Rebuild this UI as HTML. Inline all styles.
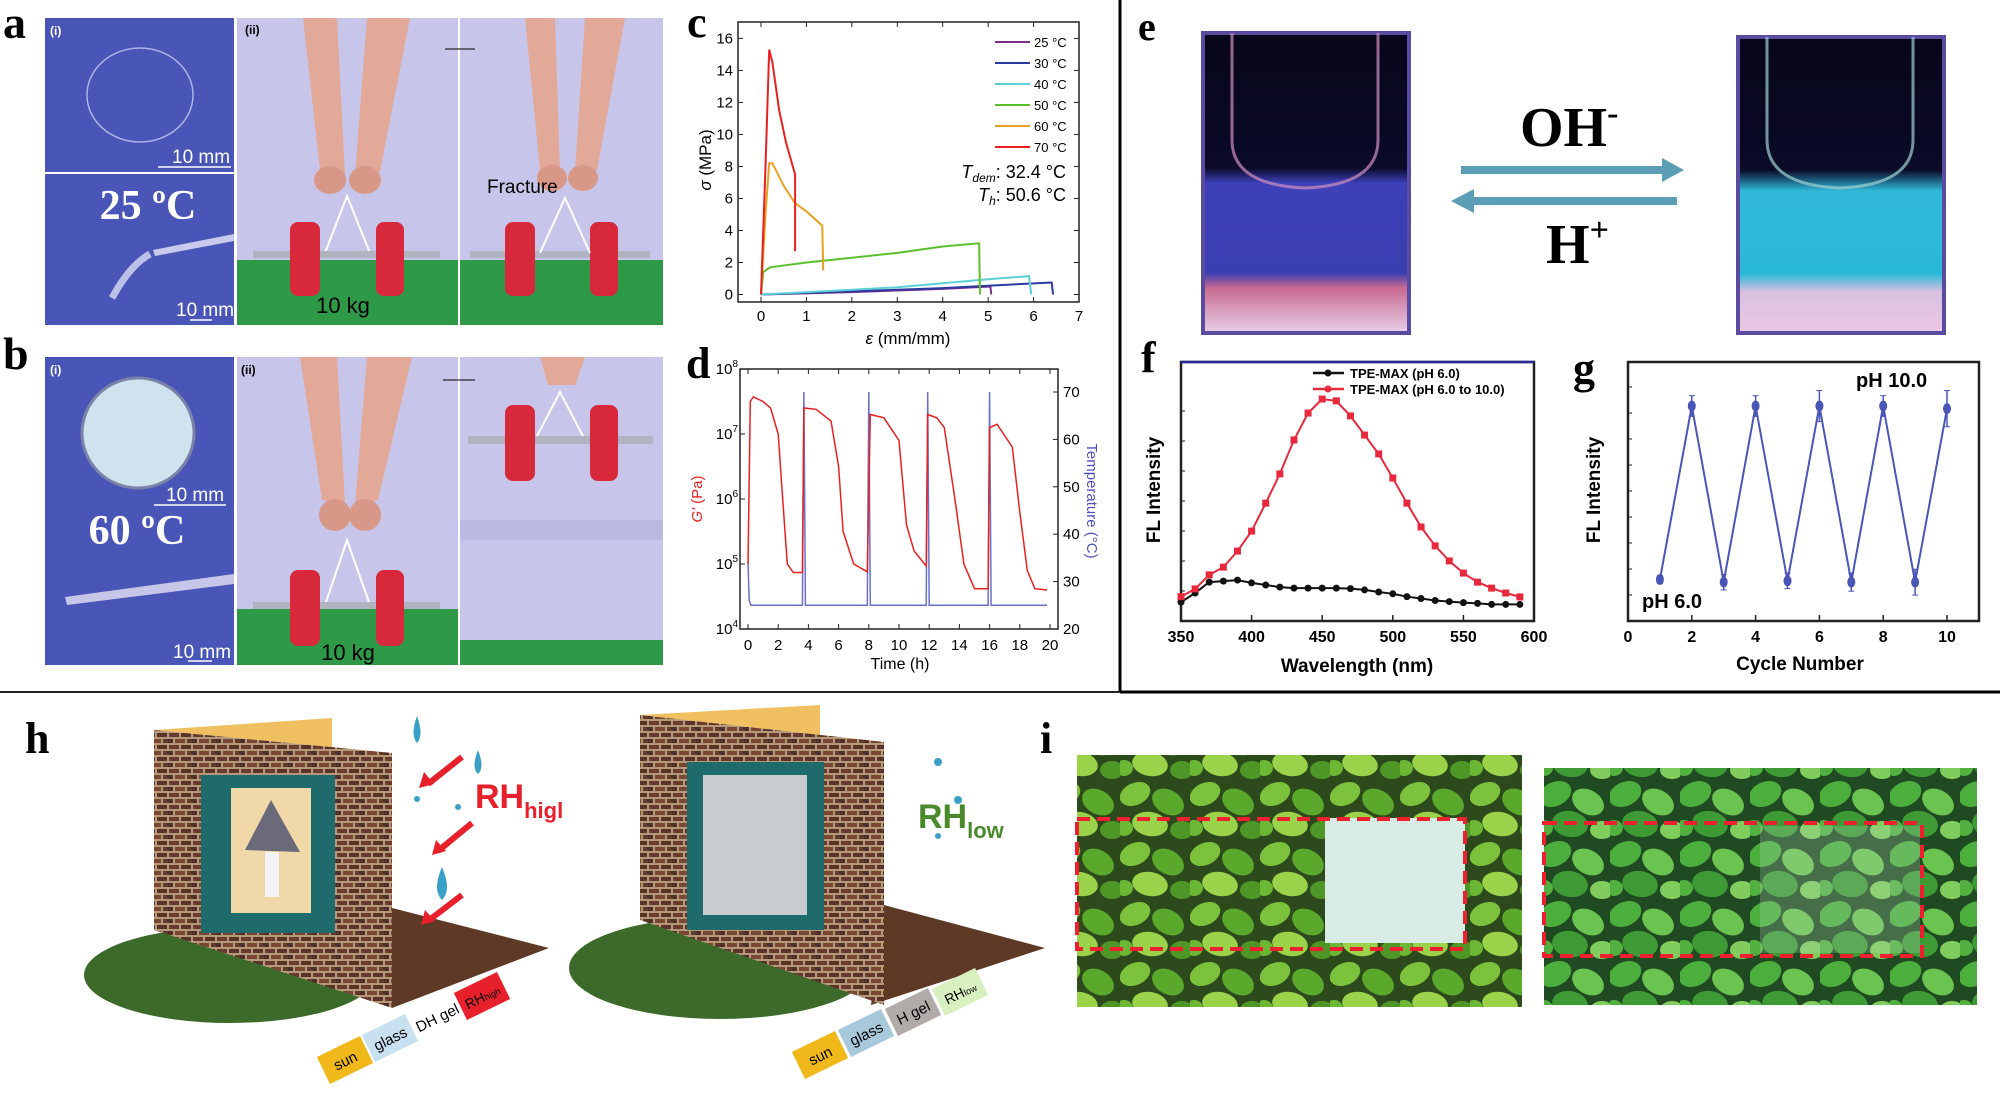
<!DOCTYPE html>
<html><head><meta charset="utf-8"><style>
html,body{margin:0;padding:0;background:#fff;}
svg{display:block;}
text{font-family:"Liberation Sans",sans-serif;}
.serif{font-family:"Liberation Serif",serif;font-weight:bold;}
.cond{font-family:"Liberation Sans Narrow","Liberation Sans",sans-serif;font-weight:bold;}
</style></head><body>
<svg id="fig" width="2000" height="1093" viewBox="0 0 2000 1093" xmlns="http://www.w3.org/2000/svg">
<defs>
<pattern id="leaves" width="70" height="60" patternUnits="userSpaceOnUse">
<rect width="70" height="60" fill="#2c4a1c"/>
<ellipse cx="15" cy="14" rx="16" ry="11" fill="#7cc23c" transform="rotate(-25 15 14)"/>
<ellipse cx="48" cy="22" rx="17" ry="12" fill="#5aa82c" transform="rotate(30 48 22)"/>
<ellipse cx="30" cy="44" rx="18" ry="12" fill="#9ad24a" transform="rotate(10 30 44)"/>
<ellipse cx="62" cy="50" rx="12" ry="9" fill="#4e9626"/>
<ellipse cx="4" cy="48" rx="9" ry="8" fill="#6cb834"/>
</pattern>
<pattern id="leaves2" width="70" height="60" patternUnits="userSpaceOnUse">
<rect width="70" height="60" fill="#1f4a22"/>
<ellipse cx="15" cy="14" rx="17" ry="12" fill="#4cae3c" transform="rotate(-25 15 14)"/>
<ellipse cx="48" cy="22" rx="17" ry="12" fill="#6cc450" transform="rotate(30 48 22)"/>
<ellipse cx="30" cy="44" rx="18" ry="13" fill="#3e9a34" transform="rotate(10 30 44)"/>
<ellipse cx="62" cy="50" rx="12" ry="9" fill="#80cc5c"/>
<ellipse cx="4" cy="48" rx="9" ry="8" fill="#52b040"/>
</pattern>
<pattern id="brick" width="24" height="12" patternUnits="userSpaceOnUse">
<rect width="24" height="12" fill="#b59a7a"/>
<rect x="1" y="1" width="10" height="4" fill="#6a3a2e"/><rect x="13" y="1" width="10" height="4" fill="#5a3228"/>
<rect x="-5" y="7" width="10" height="4" fill="#4e2e26"/><rect x="7" y="7" width="10" height="4" fill="#7a4634"/><rect x="19" y="7" width="10" height="4" fill="#5e3a2c"/>
</pattern>
<linearGradient id="cuvL" x1="0" y1="0" x2="0" y2="1">
<stop offset="0" stop-color="#07061a"/><stop offset="0.45" stop-color="#0b0a28"/><stop offset="0.5" stop-color="#3d40b8"/><stop offset="0.8" stop-color="#3a3fb0"/><stop offset="0.85" stop-color="#c86a90"/><stop offset="1" stop-color="#e8d0ea"/>
</linearGradient>
<linearGradient id="cuvR" x1="0" y1="0" x2="0" y2="1">
<stop offset="0" stop-color="#07061a"/><stop offset="0.45" stop-color="#0b0a28"/><stop offset="0.52" stop-color="#30b8d8"/><stop offset="0.8" stop-color="#2ab8d8"/><stop offset="0.86" stop-color="#d8c0e0"/><stop offset="1" stop-color="#ecc8e4"/>
</linearGradient>
</defs>

<!-- dividers -->
<line x1="1120" y1="0" x2="1120" y2="692" stroke="#000" stroke-width="3"/>
<line x1="1120" y1="692" x2="2000" y2="692" stroke="#000" stroke-width="3"/>
<line x1="0" y1="692" x2="1120" y2="692" stroke="#222" stroke-width="2"/>

<!-- Panel a -->
<g>
<text class="serif" x="3" y="38" font-size="46">a</text>
<rect x="45" y="18" width="189" height="154" fill="#4a55b8"/>
<rect x="45" y="174" width="189" height="151" fill="#4a55b8"/>
<text x="50" y="35" font-size="12" font-weight="bold" fill="#fff">(i)</text>
<ellipse cx="140" cy="95" rx="53" ry="47" fill="none" stroke="#c8ccf0" stroke-width="1.5" opacity="0.8"/>
<text x="172" y="163" font-size="19" fill="#fff">10 mm</text>
<line x1="158" y1="167" x2="231" y2="167" stroke="#fff" stroke-width="1.5"/>
<text class="serif" x="148" y="219" font-size="42" fill="#fff" text-anchor="middle">25 ºC</text>
<polygon points="153,250 234,234 234,241 155,256" fill="#dfe0f4" opacity="0.85"/>
<path d="M150,254 Q130,265 112,298" stroke="#d8dcf4" stroke-width="7" fill="none" opacity="0.8"/>
<text x="176" y="316" font-size="19" fill="#fff">10 mm</text>
<line x1="190" y1="320" x2="212" y2="320" stroke="#fff" stroke-width="1.5"/>
<rect x="237" y="18" width="221" height="307" fill="#c7c6ea"/>
<rect x="237" y="260" width="221" height="65" fill="#2e9a48"/>
<text x="245" y="34" font-size="12" font-weight="bold">(ii)</text>
<path d="M303,18 L320,170 L345,175 L337,18 Z" fill="#e2a898"/>
<path d="M367,18 L355,175 L380,172 L410,18 Z" fill="#e2a898"/>
<ellipse cx="330" cy="180" rx="16" ry="14" fill="#d89888"/><ellipse cx="365" cy="180" rx="16" ry="14" fill="#d89888"/>
<polyline points="325,253 347,196 370,253" fill="none" stroke="#fff" stroke-width="2"/>
<rect x="253" y="251" width="187" height="7" fill="#b0b4c0"/>
<rect x="290" y="222" width="30" height="74" rx="8" fill="#d8283c"/>
<rect x="376" y="222" width="28" height="74" rx="8" fill="#d8283c"/>
<text x="343" y="313" font-size="22" text-anchor="middle">10 kg</text>
<rect x="460" y="18" width="203" height="307" fill="#c7c6ea"/>
<rect x="460" y="260" width="203" height="65" fill="#2e9a48"/>
<line x1="445" y1="49" x2="475" y2="49" stroke="#000" stroke-width="1"/>
<path d="M525,18 L540,170 L560,172 L555,18 Z" fill="#e2a898"/>
<path d="M585,18 L575,172 L597,170 L625,18 Z" fill="#e2a898"/>
<ellipse cx="552" cy="178" rx="15" ry="13" fill="#d89888"/><ellipse cx="583" cy="178" rx="15" ry="13" fill="#d89888"/>
<text x="487" y="193" font-size="19">Fracture</text>
<rect x="470" y="251" width="180" height="7" fill="#b0b4c0"/>
<rect x="505" y="222" width="30" height="74" rx="8" fill="#d8283c"/>
<rect x="590" y="222" width="28" height="74" rx="8" fill="#d8283c"/>
<polyline points="540,253 565,198 590,253" fill="none" stroke="#fff" stroke-width="2"/>
</g>

<!-- Panel b -->
<g>
<text class="serif" x="3" y="369" font-size="46">b</text>
<rect x="45" y="357" width="189" height="308" fill="#4a55b8"/>
<text x="50" y="374" font-size="12" font-weight="bold" fill="#fff">(i)</text>
<ellipse cx="138" cy="433" rx="56" ry="55" fill="#cfe3ee" stroke="#7a82a8" stroke-width="3"/>
<text x="166" y="501" font-size="19" fill="#fff">10 mm</text>
<line x1="154" y1="505" x2="226" y2="505" stroke="#fff" stroke-width="1.5"/>
<text class="serif" x="137" y="544" font-size="42" fill="#fff" text-anchor="middle">60 ºC</text>
<polygon points="65,597 234,574 234,584 67,605" fill="#dcdcf0" opacity="0.85"/>
<text x="173" y="658" font-size="19" fill="#fff">10 mm</text>
<line x1="188" y1="661" x2="212" y2="661" stroke="#fff" stroke-width="1.5"/>
<rect x="237" y="357" width="221" height="308" fill="#c7c6ea"/>
<rect x="237" y="609" width="221" height="56" fill="#2e9a48"/>
<text x="241" y="374" font-size="12" font-weight="bold">(ii)</text>
<path d="M300,357 L322,500 L345,505 L337,357 Z" fill="#e2a898"/>
<path d="M367,357 L355,505 L378,500 L412,357 Z" fill="#e2a898"/>
<ellipse cx="335" cy="515" rx="16" ry="16" fill="#d89888"/><ellipse cx="365" cy="515" rx="16" ry="16" fill="#d89888"/>
<polyline points="325,605 347,540 370,605" fill="none" stroke="#fff" stroke-width="2"/>
<rect x="253" y="602" width="187" height="7" fill="#b0b4c0"/>
<rect x="290" y="570" width="30" height="76" rx="8" fill="#d8283c"/>
<rect x="376" y="570" width="28" height="76" rx="8" fill="#d8283c"/>
<text x="348" y="660" font-size="22" text-anchor="middle">10 kg</text>
<rect x="460" y="357" width="203" height="308" fill="#c7c6ea"/>
<rect x="460" y="640" width="203" height="25" fill="#2e9a48"/>
<rect x="460" y="520" width="203" height="20" fill="#b0b0d8" opacity="0.6"/>
<line x1="443" y1="380" x2="475" y2="380" stroke="#000" stroke-width="1"/>
<path d="M540,357 L548,385 L575,385 L585,357 Z" fill="#e2a898"/>
<polyline points="535,440 560,392 585,440" fill="none" stroke="#fff" stroke-width="2"/>
<rect x="468" y="436" width="185" height="8" fill="#b0b4c0"/>
<rect x="505" y="405" width="30" height="76" rx="8" fill="#d8283c"/>
<rect x="590" y="405" width="28" height="76" rx="8" fill="#d8283c"/>
</g>

<!-- Panel e -->
<g>
<text class="serif" x="1138" y="40" font-size="40">e</text>
<rect x="1203" y="33" width="206" height="300" fill="url(#cuvL)" stroke="#5a4aa0" stroke-width="4"/>
<path d="M1232,33 L1232,140 Q1232,185 1305,188 Q1378,185 1378,140 L1378,33" fill="none" stroke="#d090c0" stroke-width="3" opacity="0.7"/>
<rect x="1738" y="37" width="206" height="296" fill="url(#cuvR)" stroke="#5a4aa0" stroke-width="4"/>
<path d="M1767,37 L1767,140 Q1767,185 1840,188 Q1913,185 1913,140 L1913,37" fill="none" stroke="#a0d0d0" stroke-width="3" opacity="0.7"/>
<text class="serif" x="1520" y="146" font-size="56">OH<tspan font-size="34" dy="-22">-</tspan></text>
<text class="serif" x="1546" y="263" font-size="56">H<tspan font-size="34" dy="-22">+</tspan></text>
<polygon points="1461,166 1662,166 1662,158 1684,170 1662,182 1662,174 1461,174" fill="#5b9eb5"/>
<polygon points="1677,197 1474,197 1474,189 1451,201 1474,213 1474,205 1677,205" fill="#5b9eb5"/>
</g>

<!-- Panel h -->
<g>
<text class="serif" x="25" y="753" font-size="44">h</text>
<g>
<ellipse cx="230" cy="975" rx="146" ry="48" fill="#3c6a2a"/>
<polygon points="392,908 549,948 392,1008" fill="#5e3a26"/>
<polygon points="154,730 332,718 332,747 392,753" fill="#f0c060"/>
<polygon points="154,730 392,753 392,1008 154,930" fill="url(#brick)"/>
<rect x="201" y="775" width="134" height="158" fill="#1f6a6a"/>
<rect x="231" y="788" width="80" height="125" fill="#f0d8a8"/>
<polygon points="271,800 245,850 300,852" fill="#6a6a7a"/>
<rect x="265" y="852" width="14" height="45" fill="#f4f4f4"/>
<text x="475" y="808" font-size="34" font-weight="bold" fill="#e8202c">RH<tspan font-size="22" dy="10">higl</tspan></text>
<g stroke="#e8202c" stroke-width="6" fill="#e8202c">
<line x1="462" y1="757" x2="428" y2="784"/><line x1="472" y1="823" x2="438" y2="851"/><line x1="462" y1="895" x2="428" y2="921"/>
</g>
<polygon points="419,788 424,772 434,784" fill="#e8202c"/>
<polygon points="432,855 436,840 446,851" fill="#e8202c"/>
<polygon points="421,925 425,910 435,921" fill="#e8202c"/>
<path d="M417,716 Q410,735 417,743 Q424,735 417,716Z" fill="#3aa0c8"/>
<path d="M478,750 Q471,768 478,774 Q485,768 478,750Z" fill="#3aa0c8"/>
<path d="M442,867 Q432,890 442,900 Q452,890 442,867Z" fill="#3aa0c8"/>
<circle cx="417" cy="799" r="3" fill="#3aa0c8"/><circle cx="458" cy="807" r="3" fill="#3aa0c8"/>
<g transform="translate(345,1060) rotate(-26)"><rect x="-24" y="-15" width="48" height="30" fill="#f0b818"/><text x="0" y="6" font-size="15" text-anchor="middle">sun</text></g>
<g transform="translate(390,1038) rotate(-26)"><rect x="-24" y="-15" width="48" height="30" fill="#c8e0f0"/><text x="0" y="6" font-size="15" text-anchor="middle">glass</text></g>
<g transform="translate(437,1017) rotate(-26)"><rect x="-24" y="-15" width="48" height="30" fill="#fff"/><text x="0" y="6" font-size="15" text-anchor="middle">DH gel</text></g>
<g transform="translate(482,996) rotate(-26)"><rect x="-24" y="-15" width="48" height="30" fill="#e8202c"/><text x="0" y="6" font-size="14" text-anchor="middle">RH<tspan font-size="9">high</tspan></text></g>
</g>
<g>
<ellipse cx="720" cy="968" rx="151" ry="51" fill="#3c6a2a"/>
<polygon points="884,905 1045,948 871,1005" fill="#5e3a26"/>
<polygon points="640,715 820,705 820,738 884,742" fill="#f0c060"/>
<polygon points="640,715 884,742 884,1005 640,920" fill="url(#brick)"/>
<rect x="687" y="762" width="137" height="168" fill="#1f6a6a"/>
<rect x="703" y="775" width="104" height="140" fill="#c8ccd0"/>
<text x="918" y="828" font-size="34" font-weight="bold" fill="#4a8a2a">RH<tspan font-size="22" dy="10">low</tspan></text>
<circle cx="938" cy="762" r="4" fill="#3aa0c8"/><circle cx="958" cy="800" r="4" fill="#3aa0c8"/><circle cx="938" cy="836" r="3" fill="#3aa0c8"/>
<g transform="translate(820,1055) rotate(-26)"><rect x="-24" y="-15" width="48" height="30" fill="#f0b818"/><text x="0" y="6" font-size="15" text-anchor="middle">sun</text></g>
<g transform="translate(866,1033) rotate(-26)"><rect x="-24" y="-15" width="48" height="30" fill="#a8c8dc"/><text x="0" y="6" font-size="15" text-anchor="middle">glass</text></g>
<g transform="translate(913,1012) rotate(-26)"><rect x="-24" y="-15" width="48" height="30" fill="#b0aaa8"/><text x="0" y="6" font-size="15" text-anchor="middle">H gel</text></g>
<g transform="translate(960,992) rotate(-26)"><rect x="-24" y="-15" width="48" height="30" fill="#d8f0c0"/><text x="0" y="6" font-size="14" text-anchor="middle">RH<tspan font-size="9">low</tspan></text></g>
</g>
</g>

<!-- Panel i -->
<g>
<text class="serif" x="1040" y="753" font-size="44">i</text>
<rect x="1077" y="755" width="445" height="252" fill="url(#leaves)"/>
<rect x="1325" y="818" width="140" height="125" fill="#d8ebe4"/>
<rect x="1077" y="819" width="388" height="130" fill="none" stroke="#ee2030" stroke-width="4" stroke-dasharray="13,7"/>
<rect x="1544" y="768" width="433" height="237" fill="url(#leaves2)"/>
<rect x="1760" y="826" width="160" height="127" fill="#b8dcc0" opacity="0.25"/>
<rect x="1544" y="823" width="378" height="133" fill="none" stroke="#ee2030" stroke-width="4" stroke-dasharray="13,7"/>
</g>

<g id="chartC"></g>
<g id="chartD"></g>
<g id="chartF"></g>
<g id="chartG"></g>
</svg>
<script>
// ---------- chart c data ----------
const cTemps = ["25 °C","30 °C","40 °C","50 °C","60 °C","70 °C"];
const cColors = ["#7b2d8e","#2b3aa0","#5cd0d8","#5cc02c","#e8a020","#e82020"];
const cStrain25 = [0,2,4,5.05,5.07];
const cStress25 = [0,0.15,0.35,0.5,0];
const cStrain30 = [0,1,2,3,4,5,6.4,6.43];
const cStress30 = [0,0.1,0.2,0.3,0.4,0.55,0.75,0];
const cStrain40 = [0,1,2,3,4,5,5.9,5.95];
const cStress40 = [0,0.15,0.3,0.45,0.7,0.95,1.15,0];
const cStrain50 = [0,0.05,0.2,1,2,3,4,4.4,4.8,4.82];
const cStress50 = [0,1.4,1.7,2,2.3,2.6,3,3.1,3.2,0];
const cStrain60 = [0,0.1,0.18,0.25,0.5,0.75,1,1.35,1.37];
const cStress60 = [0,5,8.2,8.2,6.8,5.7,5.2,4.3,1.5];
const cStrain70 = [0,0.1,0.18,0.25,0.4,0.55,0.7,0.75,0.75];
const cStress70 = [0,8,15.3,14.5,11.5,9.5,8,7.5,2.7];
const cXTicks = [0,1,2,3,4,5,6,7];
const cYTicks = [0,2,4,6,8,10,12,14,16];
// ---------- chart d data ----------
const dTime = [0,0.15,0.35,1,1.5,2,2.3,2.6,3,3.6,3.7,4.5,5.5,6,6.3,7,7.9,8.1,9,10,10.5,11,11.8,11.9,12.5,13,13.7,14.3,15,15.9,16,16.5,17.5,18,18.5,19,19.8];
const dLogG = [5,7.5,7.57,7.5,7.4,7,6,5,4.87,4.87,7.4,7.38,7.2,6.5,5.5,5,4.88,7.3,7.25,6.9,5.6,5.2,4.97,7.3,7.25,7.1,6,5,4.62,4.62,7.1,7.15,6.8,5.8,4.9,4.62,4.6];
const dTempTime = [0,0.08,0.2,3.6,3.7,3.8,7.9,8,8.1,11.8,11.9,12,15.9,16,16.1,19.8];
const dTemp = [34,26,25,25,70,25,25,70,25,25,70,25,25,70,25,25];
const dXTicks = [0,2,4,6,8,10,12,14,16,18,20];
const dYTicks = [4,5,6,7,8];
const dTTicks = [20,30,40,50,60,70];
// ---------- chart f data ----------
const fWave = [350,360,370,380,390,400,410,420,430,440,450,460,470,480,490,500,510,520,530,540,550,560,570,580,590];
const fRed = [9.4,12.4,17.8,20.8,27,34.7,45.5,56.8,69.9,80.3,85.7,85,79.2,71.8,64.5,55.2,45.5,36.3,29,23.2,18.5,15,12.7,10.8,9.3];
const fBlack = [7.3,10.8,15,15.4,15.8,14.7,13.9,13.1,12.7,12.7,12.7,12.7,12.5,12,11.2,10.5,9.4,8.7,7.9,7.5,7.1,6.8,6.4,6.4,6.4];
const fXTicks = [350,400,450,500,550,600];
const fLegend = ["TPE-MAX (pH 6.0)","TPE-MAX (pH 6.0 to 10.0)"];
// ---------- chart g data ----------
const gCycle = [1,2,3,4,5,6,7,8,9,10];
const gValue = [16,83,15,83,15.5,83,15,83,15,82];
const gErr = [1.5,4,3,4,3,6,3.5,4,5,7];
const gXTicks = [0,2,4,6,8,10];

const NS="http://www.w3.org/2000/svg";
function mk(tag, attrs, parent){const e=document.createElementNS(NS,tag);for(const k in attrs)e.setAttribute(k,attrs[k]);parent.appendChild(e);return e;}
function pathD(xs,ys,fx,fy){return xs.map((x,i)=>(i?"L":"M")+fx(x).toFixed(1)+","+fy(ys[i]).toFixed(1)).join(" ");}

// ================= Chart C =================
(function(){
const g=document.getElementById("chartC");
const L=738,R=1079,T=22,B=302;
const x=v=>761+v*(1079-761)/7, y=v=>294.5-v*(294.5-38.4)/16;
let t=mk("text",{x:687,y:37,"font-size":44,class:"serif"},g);t.textContent="c";


const fr=mk("rect",{x:L,y:T,width:R-L,height:B-T,fill:"none",stroke:"#222","stroke-width":1.5},g);


cXTicks.forEach(v=>{mk("line",{x1:x(v),y1:B,x2:x(v),y2:B-5,stroke:"#222"},g);mk("line",{x1:x(v),y1:T,x2:x(v),y2:T+5,stroke:"#222"},g);
 const l=mk("text",{x:x(v),y:321,"font-size":15,"text-anchor":"middle"},g);l.textContent=v;
 
 });
cYTicks.forEach(v=>{mk("line",{x1:L,y1:y(v),x2:L+5,y2:y(v),stroke:"#222"},g);mk("line",{x1:R,y1:y(v),x2:R-5,y2:y(v),stroke:"#222"},g);
 const l=mk("text",{x:733,y:y(v)+5,"font-size":15,"text-anchor":"end"},g);l.textContent=v;
 
 });
let yt=mk("text",{x:0,y:0,"font-size":17,"text-anchor":"middle",transform:"translate(711,160) rotate(-90)"},g);yt.innerHTML='<tspan font-style="italic">σ</tspan> (MPa)';


let xt=mk("text",{x:908,y:344,"font-size":17,"text-anchor":"middle"},g);xt.innerHTML='<tspan font-style="italic">ε</tspan> (mm/mm)';


const SX=[cStrain25,cStrain30,cStrain40,cStrain50,cStrain60,cStrain70], SY=[cStress25,cStress30,cStress40,cStress50,cStress60,cStress70];
SX.forEach((xs,i)=>{const p=mk("path",{d:pathD(xs,SY[i],x,y),fill:"none",stroke:cColors[i],"stroke-width":2},g);
 
 
 const ly=42+i*21;mk("line",{x1:995,y1:ly,x2:1030,y2:ly,stroke:cColors[i],"stroke-width":2},g);
 const lt=mk("text",{x:1034,y:ly+5,"font-size":13},g);lt.textContent=cTemps[i];
 
 });
let a1=mk("text",{x:1066,y:178,"font-size":18,"text-anchor":"end"},g);a1.innerHTML='<tspan font-style="italic">T</tspan><tspan font-size="12" dy="4" font-style="italic">dem</tspan><tspan dy="-4">: 32.4 °C</tspan>';


let a2=mk("text",{x:1066,y:201,"font-size":18,"text-anchor":"end"},g);a2.innerHTML='<tspan font-style="italic">T</tspan><tspan font-size="12" dy="4" font-style="italic">h</tspan><tspan dy="-4">: 50.6 °C</tspan>';


})();

// ================= Chart D =================
(function(){
const g=document.getElementById("chartD");
const L=740,R=1058,T=369,B=629;
const x=v=>748+v*(1050-748)/20, y=v=>629-(v-4)*65, yt=v=>629-(v-20)*(629-392)/50;
let t=mk("text",{x:686,y:378,"font-size":44,class:"serif"},g);t.textContent="d";


const fr=mk("rect",{x:L,y:T,width:R-L,height:B-T,fill:"none",stroke:"#222","stroke-width":1.5},g);


dXTicks.forEach(v=>{mk("line",{x1:x(v),y1:B,x2:x(v),y2:B-5,stroke:"#222"},g);mk("line",{x1:x(v),y1:T,x2:x(v),y2:T+5,stroke:"#222"},g);
 const l=mk("text",{x:x(v),y:650,"font-size":15,"text-anchor":"middle"},g);l.textContent=v;
 
 });
dYTicks.forEach(v=>{mk("line",{x1:L,y1:y(v),x2:L+5,y2:y(v),stroke:"#222"},g);
 const l=mk("text",{x:738,y:y(v)+5,"font-size":15,"text-anchor":"end"},g);l.innerHTML='10<tspan font-size="10" dy="-7">'+v+'</tspan>';
 
 });
dTTicks.forEach(v=>{mk("line",{x1:R,y1:yt(v),x2:R-5,y2:yt(v),stroke:"#222"},g);
 const l=mk("text",{x:1063,y:yt(v)+5,"font-size":15},g);l.textContent=v;
 
 });
let xt=mk("text",{x:900,y:669,"font-size":16,"text-anchor":"middle"},g);xt.textContent="Time (h)";


let y1=mk("text",{"font-size":15,"text-anchor":"middle",fill:"#e82020",transform:"translate(702,499) rotate(-90)"},g);y1.innerHTML='<tspan font-style="italic">G\'</tspan> (Pa)';


let y2=mk("text",{"font-size":15,"text-anchor":"middle",fill:"#5050c0",transform:"translate(1087,501) rotate(90)"},g);y2.textContent="Temperature (°C)";


const pt=mk("path",{d:pathD(dTempTime,dTemp,x,yt),fill:"none",stroke:"#6a70c8","stroke-width":1.5},g);


const pg=mk("path",{d:pathD(dTime,dLogG,x,y),fill:"none",stroke:"#e82020","stroke-width":1.5},g);


})();

// ================= Chart F =================
(function(){
const g=document.getElementById("chartF");
const L=1181,R=1534,T=362,B=621;
const x=v=>1181+(v-350)*(1534-1181)/250, y=v=>621-v*2.59;
let t=mk("text",{x:1141,y:372,"font-size":44,class:"serif"},g);t.textContent="f";


const fr=mk("rect",{x:L,y:T,width:R-L,height:B-T,fill:"none",stroke:"#222","stroke-width":2.5},g);


mk("line",{x1:L,y1:T,x2:R,y2:T,stroke:"#2a2a9a","stroke-width":2.5},g);
fXTicks.forEach(v=>{mk("line",{x1:x(v),y1:B,x2:x(v),y2:B-6,stroke:"#222","stroke-width":1.5},g);
 const l=mk("text",{x:x(v),y:642,"font-size":16,"text-anchor":"middle",class:"cond"},g);l.textContent=v;
 
 });
for(let k=1;k<8;k++){mk("line",{x1:L,y1:B-k*30,x2:L+4,y2:B-k*30,stroke:"#222"},g);}
let xt=mk("text",{x:1357,y:672,"font-size":19,"text-anchor":"middle",class:"cond"},g);xt.textContent="Wavelength (nm)";


let yt=mk("text",{"font-size":19,"text-anchor":"middle",class:"cond",transform:"translate(1160,490) rotate(-90)"},g);yt.textContent="FL Intensity";


const pb=mk("path",{d:pathD(fWave,fBlack,x,y),fill:"none",stroke:"#111","stroke-width":2},g);


fWave.forEach((w,i)=>{const c=mk("circle",{cx:x(w),cy:y(fBlack[i]),r:3.5,fill:"#111"},g);
 
 });
const pr=mk("path",{d:pathD(fWave,fRed,x,y),fill:"none",stroke:"#e8283c","stroke-width":2},g);


fWave.forEach((w,i)=>{const c=mk("rect",{x:x(w)-3.5,y:y(fRed[i])-3.5,width:7,height:7,fill:"#e8283c"},g);
 
 });
[["#111",373],["#e8283c",389]].forEach((s,i)=>{mk("line",{x1:1313,y1:s[1],x2:1344,y2:s[1],stroke:s[0],"stroke-width":2.5},g);
 mk("circle",{cx:1328,cy:s[1],r:3.5,fill:s[0]},g);
 const l=mk("text",{x:1350,y:s[1]+5,"font-size":13,class:"cond"},g);l.textContent=fLegend[i];
 
 });
})();

// ================= Chart G =================
(function(){
const g=document.getElementById("chartG");
const L=1628,R=1979,T=362,B=621;
const x=v=>1628+v*(1947-1628)/10, y=v=>621-v*2.59;
let t=mk("text",{x:1573,y:383,"font-size":44,class:"serif"},g);t.textContent="g";


const fr=mk("rect",{x:L,y:T,width:R-L,height:B-T,fill:"none",stroke:"#222","stroke-width":2.5},g);


gXTicks.forEach(v=>{mk("line",{x1:x(v),y1:B,x2:x(v),y2:B-6,stroke:"#222","stroke-width":1.5},g);
 const l=mk("text",{x:x(v),y:642,"font-size":16,"text-anchor":"middle",class:"cond"},g);l.textContent=v;
 
 });
for(let k=1;k<10;k++){mk("line",{x1:L,y1:B-k*26,x2:L+4,y2:B-k*26,stroke:"#222"},g);}
let xt=mk("text",{x:1800,y:670,"font-size":19,"text-anchor":"middle",class:"cond"},g);xt.textContent="Cycle Number";


let yt=mk("text",{"font-size":19,"text-anchor":"middle",class:"cond",transform:"translate(1600,490) rotate(-90)"},g);yt.textContent="FL Intensity";


const p=mk("path",{d:pathD(gCycle,gValue,x,y),fill:"none",stroke:"#4a55b8","stroke-width":2},g);


gCycle.forEach((c,i)=>{mk("line",{x1:x(c),y1:y(gValue[i]+gErr[i]),x2:x(c),y2:y(gValue[i]-gErr[i]),stroke:"#4a55b8","stroke-width":1.5},g);
 mk("line",{x1:x(c)-3,y1:y(gValue[i]+gErr[i]),x2:x(c)+3,y2:y(gValue[i]+gErr[i]),stroke:"#4a55b8"},g);
 mk("line",{x1:x(c)-3,y1:y(gValue[i]-gErr[i]),x2:x(c)+3,y2:y(gValue[i]-gErr[i]),stroke:"#4a55b8"},g);
 const pt=mk("ellipse",{cx:x(c),cy:y(gValue[i]),rx:4,ry:5.5,fill:"#4a55b8"},g);
 
 });
let h=mk("text",{x:1856,y:387,"font-size":20,class:"cond"},g);h.textContent="pH 10.0";


let lo=mk("text",{x:1642,y:608,"font-size":20,class:"cond"},g);lo.textContent="pH 6.0";


})();
</script>
</body></html>
